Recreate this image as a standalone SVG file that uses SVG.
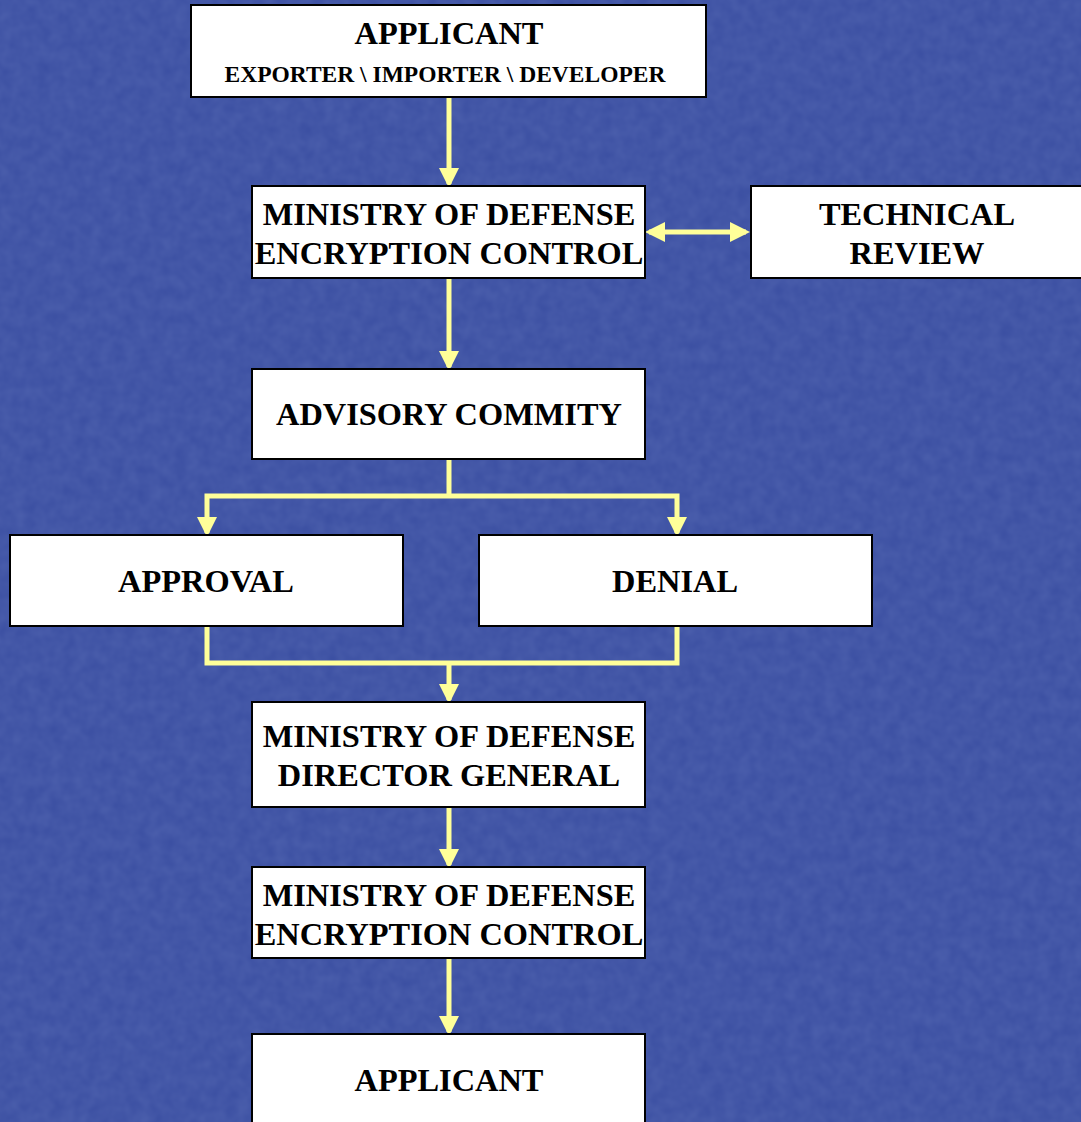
<svg xmlns="http://www.w3.org/2000/svg" width="1081" height="1122" viewBox="0 0 1081 1122">
<style>
.box{fill:#ffffff;stroke:#000000;stroke-width:2}
.t{font-family:"Liberation Serif","Times New Roman",serif;font-weight:bold;font-size:32.4px;fill:#000;text-anchor:middle}
.s{font-size:23.5px}
.c{fill:none;stroke:#ffff99;stroke-width:5}
</style>
<defs>
<filter id="tex" x="0" y="0" width="100%" height="100%">
<feTurbulence type="fractalNoise" baseFrequency="0.08" numOctaves="2" seed="3" result="n"/>
<feColorMatrix in="n" type="matrix" values="0 0 0 0 0.25  0 0 0 0 0.33  0 0 0 0 0.66  0 0 0 0.22 0"/>
</filter>
<marker id="ah" markerWidth="4" markerHeight="4" refX="3.2" refY="2" orient="auto-start-reverse" markerUnits="strokeWidth">
<path d="M0,0 L4,2 L0,4 z" fill="#ffff99"/>
</marker>
</defs>
<rect width="1081" height="1122" fill="#3a4ea1"/>
<rect width="1081" height="1122" filter="url(#tex)"/>
<g id="connectors">
<line class="c" x1="449" y1="97" x2="449" y2="184" marker-end="url(#ah)"/>
<line class="c" x1="649" y1="232" x2="746" y2="232" marker-start="url(#ah)" marker-end="url(#ah)"/>
<line class="c" x1="449" y1="278" x2="449" y2="367" marker-end="url(#ah)"/>
<polyline class="c" points="449,459 449,496"/>
<polyline class="c" points="207,533 207,496 677,496 677,533" marker-start="url(#ah)" marker-end="url(#ah)"/>
<polyline class="c" points="207,626 207,663 677,663 677,626"/>
<line class="c" x1="449" y1="663" x2="449" y2="700" marker-end="url(#ah)"/>
<line class="c" x1="449" y1="807" x2="449" y2="865" marker-end="url(#ah)"/>
<line class="c" x1="449" y1="958" x2="449" y2="1032" marker-end="url(#ah)"/>
</g>
<g id="applicant1">
<rect class="box" x="191" y="5" width="515" height="92"/>
<text class="t" x="449" y="44">APPLICANT</text>
<text class="t s" x="445" y="82">EXPORTER \ IMPORTER \ DEVELOPER</text>
</g>
<g id="mod-ec1">
<rect class="box" x="252" y="186" width="393" height="92"/>
<text class="t" x="449" y="225">MINISTRY OF DEFENSE</text>
<text class="t" x="449" y="264">ENCRYPTION CONTROL</text>
</g>
<g id="technical-review">
<rect class="box" x="751" y="186" width="335" height="92"/>
<text class="t" x="917" y="225">TECHNICAL</text>
<text class="t" x="917" y="264">REVIEW</text>
</g>
<g id="advisory">
<rect class="box" x="252" y="369" width="393" height="90"/>
<text class="t" x="449" y="425">ADVISORY COMMITY</text>
</g>
<g id="approval">
<rect class="box" x="10" y="535" width="393" height="91"/>
<text class="t" x="206" y="592">APPROVAL</text>
</g>
<g id="denial">
<rect class="box" x="479" y="535" width="393" height="91"/>
<text class="t" x="675" y="592">DENIAL</text>
</g>
<g id="mod-dg">
<rect class="box" x="252" y="702" width="393" height="105"/>
<text class="t" x="449" y="747">MINISTRY OF DEFENSE</text>
<text class="t" x="449" y="786">DIRECTOR GENERAL</text>
</g>
<g id="mod-ec2">
<rect class="box" x="252" y="867" width="393" height="91"/>
<text class="t" x="449" y="906">MINISTRY OF DEFENSE</text>
<text class="t" x="449" y="945">ENCRYPTION CONTROL</text>
</g>
<g id="applicant2">
<rect class="box" x="252" y="1034" width="393" height="100"/>
<text class="t" x="449" y="1091">APPLICANT</text>
</g>
</svg>
